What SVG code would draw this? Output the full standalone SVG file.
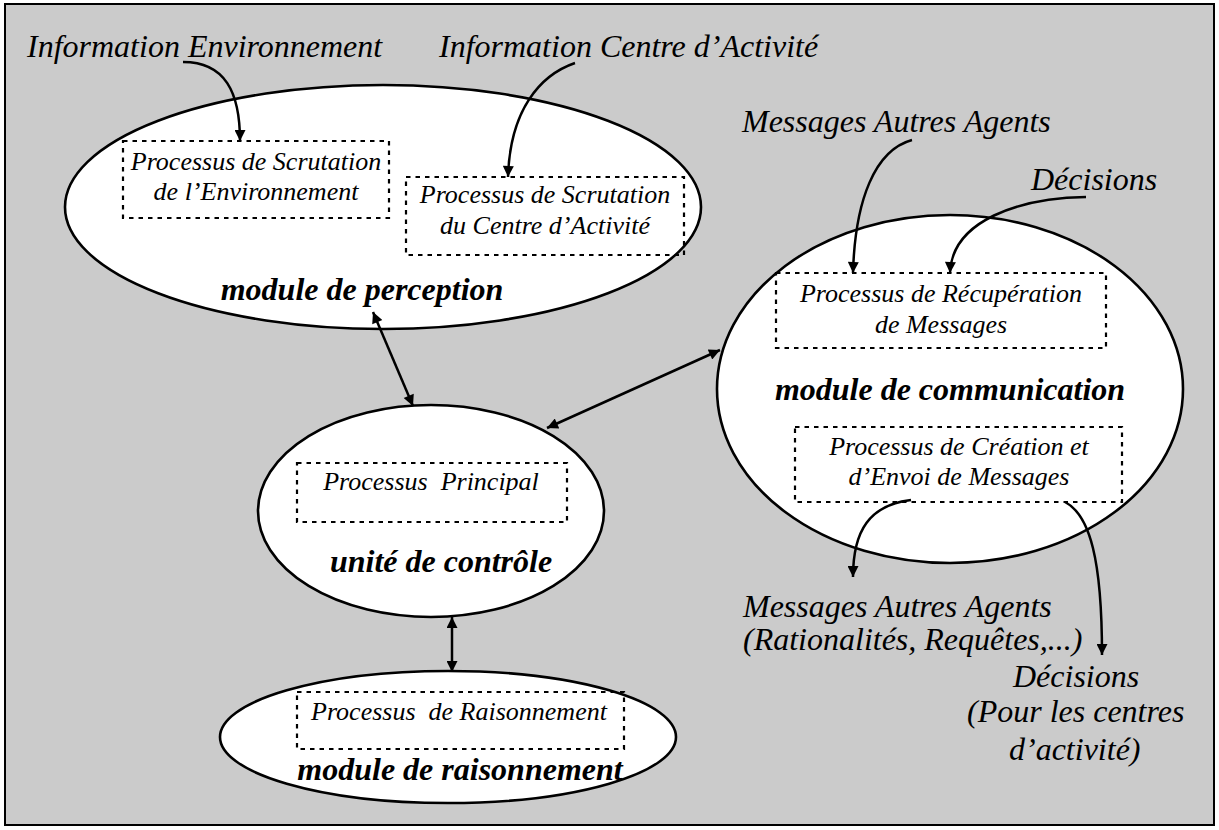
<svg xmlns="http://www.w3.org/2000/svg" width="1219" height="830" viewBox="0 0 1219 830">
<style>
.bg{fill:#cbcbcb;stroke:#000;stroke-width:2}
.ell{fill:#fff;stroke:#000;stroke-width:2.6}
.box{fill:none;stroke:#000;stroke-width:2.2;stroke-dasharray:4.5 5}
.t{font-family:"Liberation Serif","Times New Roman",serif;font-style:italic;fill:#000}
.lab{font-size:32px}
.proc{font-size:26px;text-anchor:middle}
.mod{font-size:32px;font-weight:bold;text-anchor:middle}
.con{fill:none;stroke:#000;stroke-width:2.5}
</style>
<defs>
<marker id="ah" viewBox="0 0 10 10" refX="10" refY="5" markerWidth="5" markerHeight="4.4" orient="auto-start-reverse" markerUnits="strokeWidth">
<path d="M0,0 L10,5 L0,10 z" fill="#000"/>
</marker>
</defs>
<rect class="bg" x="5" y="4" width="1209" height="821"/>

<g id="labels">
<text class="t lab" x="27" y="57">Information Environnement</text>
<text class="t lab" x="439" y="57">Information Centre d’Activité</text>
<text class="t lab" x="742" y="132">Messages Autres Agents</text>
<text class="t lab" x="1031" y="190">Décisions</text>
<text class="t lab" x="743" y="617">Messages Autres Agents</text>
<text class="t lab" x="743" y="650">(Rationalités, Requêtes,...)</text>
<text class="t lab" x="1013" y="687">Décisions</text>
<text class="t lab" x="967" y="722">(Pour les centres</text>
<text class="t lab" x="1009" y="760">d’activité)</text>
</g>

<g id="perception">
<ellipse class="ell" cx="383" cy="207" rx="318" ry="122"/>
<rect class="box" x="123" y="141" width="266" height="77"/>
<text class="t proc" x="256" y="170">Processus de Scrutation</text>
<text class="t proc" x="256" y="200">de l’Environnement</text>
<rect class="box" x="406" y="177" width="278" height="78"/>
<text class="t proc" x="545" y="203">Processus de Scrutation</text>
<text class="t proc" x="545" y="234">du Centre d’Activité</text>
<text class="t mod" x="362" y="300">module de perception</text>
</g>

<g id="controle">
<ellipse class="ell" cx="431" cy="511" rx="173" ry="106"/>
<rect class="box" x="297" y="463" width="270" height="59"/>
<text class="t proc" x="431" y="490" xml:space="preserve">Processus  Principal</text>
<text class="t mod" x="441" y="572">unité de contrôle</text>
</g>

<g id="raisonnement">
<ellipse class="ell" cx="448" cy="737" rx="228" ry="66"/>
<rect class="box" x="297" y="692" width="327" height="57"/>
<text class="t proc" x="459" y="720" xml:space="preserve">Processus  de Raisonnement</text>
<text class="t mod" x="460" y="780">module de raisonnement</text>
</g>

<g id="communication">
<ellipse class="ell" cx="950" cy="389" rx="233" ry="174"/>
<rect class="box" x="776" y="273" width="330" height="75"/>
<text class="t proc" x="941" y="302">Processus de Récupération</text>
<text class="t proc" x="941" y="333">de Messages</text>
<text class="t mod" x="950" y="400">module de communication</text>
<rect class="box" x="795" y="427" width="327" height="75"/>
<text class="t proc" x="959" y="455">Processus de Création et</text>
<text class="t proc" x="959" y="485">d’Envoi de Messages</text>
</g>

<g id="connectors">
<path class="con" marker-end="url(#ah)" d="M183,62 C225,62 240,92 240,141"/>
<path class="con" marker-end="url(#ah)" d="M575,63 C540,75 510,110 508,177"/>
<path class="con" marker-end="url(#ah)" d="M912,140 C875,150 855,200 853,273"/>
<path class="con" marker-end="url(#ah)" d="M1086,197 C1020,198 952,220 950,273"/>
<path class="con" marker-start="url(#ah)" marker-end="url(#ah)" d="M373,312 L413,406"/>
<path class="con" marker-start="url(#ah)" marker-end="url(#ah)" d="M547,428 L720,350"/>
<path class="con" marker-start="url(#ah)" marker-end="url(#ah)" d="M452,617 L452,672"/>
<path class="con" marker-end="url(#ah)" d="M911,500 C870,505 853,530 853,577"/>
<path class="con" marker-end="url(#ah)" d="M1065,502 C1090,515 1102,560 1102,655"/>
</g>
</svg>
